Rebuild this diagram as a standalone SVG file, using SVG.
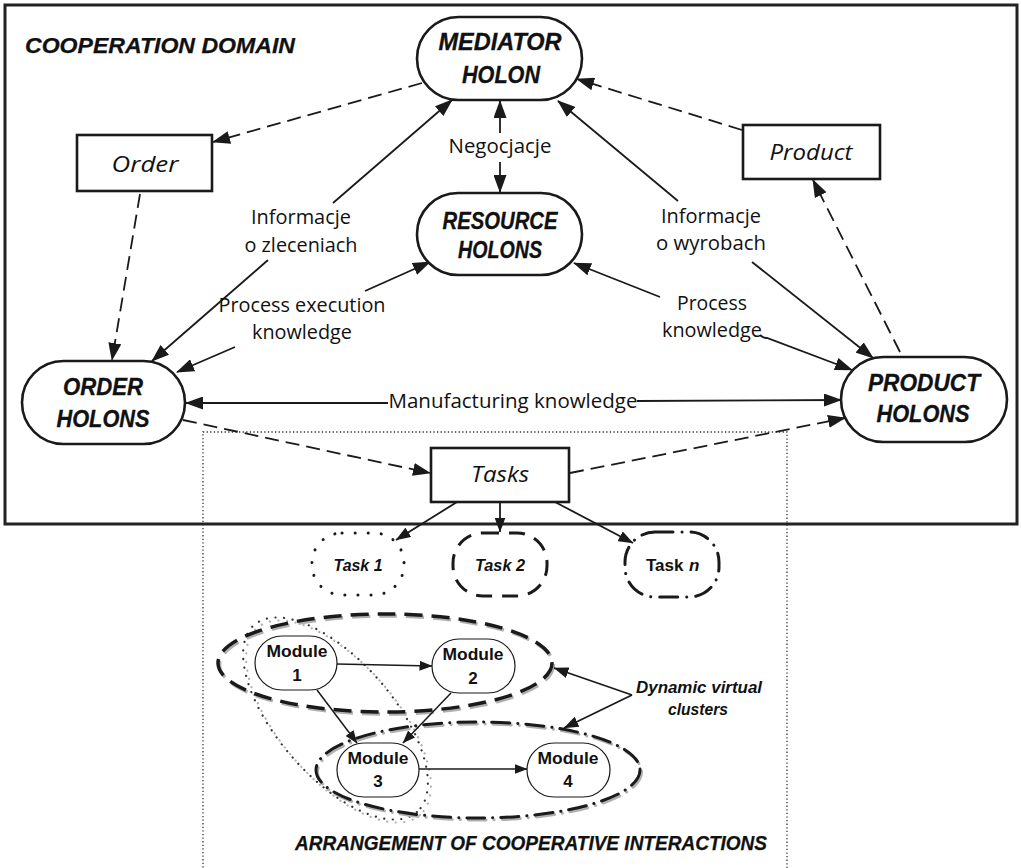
<svg xmlns="http://www.w3.org/2000/svg" width="1021" height="868" viewBox="0 0 1021 868">
  <style>
    .frame { fill: none; stroke: #222; stroke-width: 3; }
    .area { fill: none; stroke: #333; stroke-width: 1.3; stroke-dasharray: 1.3 2.3; }
    .holon { fill: #fff; stroke: #1a1a1a; stroke-width: 2.6; }
    .box { fill: #fff; stroke: #1a1a1a; stroke-width: 2.6; }
    .module { fill: #fff; stroke: #1a1a1a; stroke-width: 1.2; }
    .ln { fill: none; stroke: #1a1a1a; stroke-width: 1.8; }
    .dash { stroke-dasharray: 14 7; }
    .lnm { fill: none; stroke: #1a1a1a; stroke-width: 1.5; }
    .t-dot { fill: none; stroke: #1a1a1a; stroke-width: 3; stroke-linecap: round; stroke-dasharray: 0.1 13; }
    .t-dash { fill: none; stroke: #1a1a1a; stroke-width: 3; stroke-dasharray: 16 10; }
    .t-dashdot { fill: none; stroke: #1a1a1a; stroke-width: 3; stroke-linecap: round; stroke-dasharray: 18 9 0.1 9; }
    .c-dash { fill: none; stroke-width: 3.5; stroke-dasharray: 18 9; }
    .c-dashdot { fill: none; stroke-width: 3; stroke-linecap: round; stroke-dasharray: 18 8 0.1 8; }
    .c-dot { fill: none; stroke-width: 2.2; stroke-linecap: round; stroke-dasharray: 0.1 8.5; }
    .ink { stroke: #1a1a1a; }
    .dotink { stroke: #333; }
    .shade { stroke: #b0b0b0; }
    .hl { font-family: "Liberation Sans", Arial, sans-serif; font-weight: bold; font-style: italic; font-size: 23px; fill: #111; text-anchor: middle; stroke: #111; stroke-width: 0.3; }
    .lbl { font-family: "Open Sans", "Liberation Sans", sans-serif; font-size: 19.5px; fill: #111; text-anchor: middle; }
    .itl { font-family: "Open Sans", "Liberation Sans", sans-serif; font-style: italic; font-size: 22px; fill: #111; text-anchor: middle; }
    .task { font-family: "Liberation Sans", Arial, sans-serif; font-weight: bold; font-style: italic; font-size: 17px; fill: #111; text-anchor: middle; }
    .mod { font-family: "Liberation Sans", Arial, sans-serif; font-weight: bold; font-size: 17px; fill: #111; text-anchor: middle; }
    .upright { font-style: normal; }
    .start { text-anchor: start; }
    .title { font-family: "Liberation Sans", Arial, sans-serif; font-weight: bold; font-style: italic; fill: #111; stroke: #111; stroke-width: 0.25; }
  </style>
  <defs>
    <marker id="ah" viewBox="0 0 18 13" refX="17" refY="6.5" markerWidth="18" markerHeight="13" markerUnits="userSpaceOnUse" orient="auto-start-reverse">
      <path d="M0,0 L18,6.5 L0,13 z" fill="#1a1a1a"/>
    </marker>
    <marker id="ahs" viewBox="0 0 13 10" refX="12.5" refY="5" markerWidth="13" markerHeight="10" markerUnits="userSpaceOnUse" orient="auto-start-reverse">
      <path d="M0,0 L13,5 L0,10 z" fill="#1a1a1a"/>
    </marker>
    <marker id="ahm" viewBox="0 0 15 11" refX="14.5" refY="5.5" markerWidth="15" markerHeight="11" markerUnits="userSpaceOnUse" orient="auto-start-reverse">
      <path d="M0,0 L15,5.5 L0,11 z" fill="#1a1a1a"/>
    </marker>
    <ellipse id="cl1" cx="385" cy="663" rx="167" ry="49"/>
    <ellipse id="cl2" cx="478" cy="770" rx="162" ry="48"/>
    <ellipse id="cl3" cx="335.5" cy="718.5" rx="124" ry="58" transform="rotate(49 335.5 718.5)"/>
  </defs>

  <rect width="1021" height="868" fill="#fff"/>

  <!-- domain frames -->
  <g id="frames">
    <rect class="frame" x="5" y="5" width="1012" height="519"/>
    <text class="title" x="25" y="53" font-size="22.5" textLength="270" lengthAdjust="spacingAndGlyphs">COOPERATION DOMAIN</text>
    <rect class="area" x="203" y="432" width="584" height="460"/>
    <text class="title" x="295" y="850" font-size="20" textLength="472" lengthAdjust="spacingAndGlyphs">ARRANGEMENT OF COOPERATIVE INTERACTIONS</text>
  </g>

  <!-- virtual clusters -->
  <g id="clusters">
    <use href="#cl3" class="c-dot shade" transform="translate(3 3)"/>
    <use href="#cl3" class="c-dot dotink"/>
    <use href="#cl1" class="c-dash shade" transform="translate(1.5 2)"/>
    <use href="#cl1" class="c-dash ink"/>
    <use href="#cl2" class="c-dashdot shade" transform="translate(1.5 2)"/>
    <use href="#cl2" class="c-dashdot ink"/>
  </g>

  <!-- connectors -->
  <g id="connectors">
    <!-- mediator / order / product information flows -->
    <line class="ln dash" x1="422" y1="83" x2="213" y2="142" marker-end="url(#ah)"/>
    <line class="ln dash" x1="140" y1="194" x2="112" y2="360" marker-end="url(#ah)"/>
    <line class="ln dash" x1="742" y1="130" x2="577" y2="79" marker-end="url(#ah)"/>
    <line class="ln dash" x1="900" y1="352" x2="813" y2="180" marker-end="url(#ah)"/>
    <!-- Negocjacje -->
    <line class="ln" x1="500" y1="133" x2="500" y2="101" marker-end="url(#ah)"/>
    <line class="ln" x1="500" y1="162" x2="500" y2="192" marker-end="url(#ah)"/>
    <!-- Informacje o zleceniach -->
    <line class="ln" x1="333" y1="203" x2="452" y2="100" marker-end="url(#ah)"/>
    <line class="ln" x1="268" y1="260" x2="152" y2="361" marker-end="url(#ah)"/>
    <!-- Informacje o wyrobach -->
    <line class="ln" x1="678" y1="201" x2="558" y2="101" marker-end="url(#ah)"/>
    <line class="ln" x1="752" y1="262" x2="873" y2="358" marker-end="url(#ah)"/>
    <!-- Process execution knowledge -->
    <line class="ln" x1="365" y1="291" x2="430" y2="262" marker-end="url(#ah)"/>
    <line class="ln" x1="235" y1="347" x2="177" y2="372" marker-end="url(#ah)"/>
    <!-- Process knowledge -->
    <line class="ln" x1="660" y1="297" x2="574" y2="263" marker-end="url(#ah)"/>
    <path class="ln" d="M760,335 Q763,338 767,338 L852,370" marker-end="url(#ah)"/>
    <!-- Manufacturing knowledge -->
    <line class="ln" x1="388" y1="403" x2="186" y2="403" marker-end="url(#ah)"/>
    <line class="ln" x1="637" y1="401" x2="841" y2="400" marker-end="url(#ah)"/>
    <!-- tasks flow -->
    <line class="ln dash" x1="183" y1="420" x2="430" y2="473" marker-end="url(#ah)"/>
    <line class="ln dash" x1="570" y1="473" x2="845" y2="418" marker-end="url(#ah)"/>
    <line class="ln" x1="457" y1="502" x2="396" y2="540" marker-end="url(#ahm)"/>
    <line class="ln" x1="500" y1="502" x2="500" y2="532" marker-end="url(#ahm)"/>
    <line class="ln" x1="555" y1="502" x2="633" y2="543" marker-end="url(#ahm)"/>
    <!-- module flow -->
    <line class="lnm" x1="337" y1="664" x2="432" y2="666" marker-end="url(#ahs)"/>
    <line class="lnm" x1="317" y1="690" x2="357" y2="743" marker-end="url(#ahs)"/>
    <line class="lnm" x1="451" y1="693" x2="403" y2="743" marker-end="url(#ahs)"/>
    <line class="lnm" x1="419" y1="769" x2="527" y2="769" marker-end="url(#ahs)"/>
    <!-- cluster callouts -->
    <line class="ln" x1="632" y1="695" x2="554" y2="668" marker-end="url(#ahm)"/>
    <line class="ln" x1="632" y1="695" x2="564" y2="728" marker-end="url(#ahm)"/>
  </g>

  <!-- connector labels -->
  <g id="connector-labels">
    <text class="lbl" x="500" y="153" textLength="103" lengthAdjust="spacingAndGlyphs">Negocjacje</text>
    <text class="lbl" x="301" y="224" textLength="100" lengthAdjust="spacingAndGlyphs">Informacje</text>
    <text class="lbl" x="301" y="252" textLength="113" lengthAdjust="spacingAndGlyphs">o zleceniach</text>
    <text class="lbl" x="711" y="223" textLength="100" lengthAdjust="spacingAndGlyphs">Informacje</text>
    <text class="lbl" x="711" y="250" textLength="110" lengthAdjust="spacingAndGlyphs">o wyrobach</text>
    <text class="lbl" x="302" y="312" textLength="167" lengthAdjust="spacingAndGlyphs">Process execution</text>
    <text class="lbl" x="302" y="339" textLength="100" lengthAdjust="spacingAndGlyphs">knowledge</text>
    <text class="lbl" x="712" y="310" textLength="70" lengthAdjust="spacingAndGlyphs">Process</text>
    <text class="lbl" x="712" y="337" textLength="100" lengthAdjust="spacingAndGlyphs">knowledge</text>
    <text class="lbl" x="513" y="408" textLength="249" lengthAdjust="spacingAndGlyphs">Manufacturing knowledge</text>
    <text class="task" x="699" y="693" font-size="17.5" textLength="126" lengthAdjust="spacingAndGlyphs">Dynamic virtual</text>
    <text class="task" x="698" y="715" font-size="17.5" textLength="60" lengthAdjust="spacingAndGlyphs">clusters</text>
  </g>

  <!-- holons -->
  <g id="mediator-holon">
    <rect class="holon" x="417" y="17" width="165" height="83" rx="41.5"/>
    <text class="hl" x="500" y="50" textLength="123" lengthAdjust="spacingAndGlyphs">MEDIATOR</text>
    <text class="hl" x="501" y="83" textLength="78" lengthAdjust="spacingAndGlyphs">HOLON</text>
  </g>
  <g id="resource-holons">
    <rect class="holon" x="417" y="193" width="165" height="82" rx="41"/>
    <text class="hl" x="500" y="229" textLength="115" lengthAdjust="spacingAndGlyphs">RESOURCE</text>
    <text class="hl" x="500" y="258" textLength="84" lengthAdjust="spacingAndGlyphs">HOLONS</text>
  </g>
  <g id="order-holons">
    <rect class="holon" x="22" y="361" width="163" height="83" rx="41.5"/>
    <text class="hl" x="103" y="395" textLength="80" lengthAdjust="spacingAndGlyphs">ORDER</text>
    <text class="hl" x="103" y="427" textLength="93" lengthAdjust="spacingAndGlyphs">HOLONS</text>
  </g>
  <g id="product-holons">
    <rect class="holon" x="841" y="357" width="166" height="85" rx="42.5"/>
    <text class="hl" x="924" y="391" textLength="112" lengthAdjust="spacingAndGlyphs">PRODUCT</text>
    <text class="hl" x="923" y="422" textLength="93" lengthAdjust="spacingAndGlyphs">HOLONS</text>
  </g>

  <!-- information objects -->
  <g id="order">
    <rect class="box" x="77" y="135" width="135" height="56"/>
    <text class="itl" x="145" y="172" textLength="67" lengthAdjust="spacingAndGlyphs">Order</text>
  </g>
  <g id="product">
    <rect class="box" x="743" y="125" width="137" height="54"/>
    <text class="itl" x="811" y="160" textLength="83" lengthAdjust="spacingAndGlyphs">Product</text>
  </g>
  <g id="tasks">
    <rect class="box" x="431" y="448" width="138" height="54"/>
    <text class="itl" x="500" y="482" textLength="58" lengthAdjust="spacingAndGlyphs">Tasks</text>
  </g>

  <!-- individual tasks -->
  <g id="task-1">
    <rect class="t-dot" x="312" y="533" width="92" height="62" rx="30" ry="30"/>
    <text class="task" x="358" y="571" textLength="49" lengthAdjust="spacingAndGlyphs">Task 1</text>
  </g>
  <g id="task-2">
    <rect class="t-dash" x="453" y="533" width="94" height="63" rx="30" ry="30"/>
    <text class="task" x="500" y="571" textLength="50" lengthAdjust="spacingAndGlyphs">Task 2</text>
  </g>
  <g id="task-n">
    <rect class="t-dashdot" x="625" y="532" width="94" height="65" rx="30" ry="30"/>
    <text class="task upright start" x="646" y="571">Task</text>
    <text class="task start" x="689" y="571">n</text>
  </g>

  <!-- modules -->
  <g id="module-1">
    <rect class="module" x="255" y="636" width="82" height="54" rx="27"/>
    <text class="mod" x="297" y="657" textLength="61" lengthAdjust="spacingAndGlyphs">Module</text>
    <text class="mod" x="297" y="681">1</text>
  </g>
  <g id="module-2">
    <rect class="module" x="432" y="639" width="83" height="54" rx="27"/>
    <text class="mod" x="473" y="660" textLength="61" lengthAdjust="spacingAndGlyphs">Module</text>
    <text class="mod" x="473" y="684">2</text>
  </g>
  <g id="module-3">
    <rect class="module" x="337" y="743" width="82" height="54" rx="27"/>
    <text class="mod" x="378" y="764" textLength="61" lengthAdjust="spacingAndGlyphs">Module</text>
    <text class="mod" x="378" y="787">3</text>
  </g>
  <g id="module-4">
    <rect class="module" x="527" y="743" width="83" height="54" rx="27"/>
    <text class="mod" x="568" y="764" textLength="61" lengthAdjust="spacingAndGlyphs">Module</text>
    <text class="mod" x="568" y="787">4</text>
  </g>
</svg>
